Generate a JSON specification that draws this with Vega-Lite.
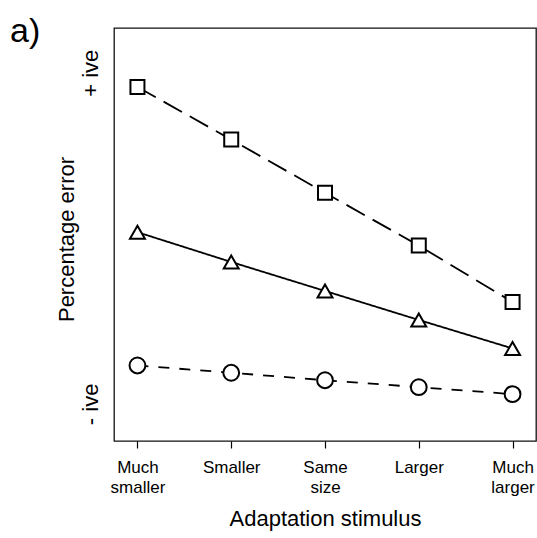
{
  "$schema": "https://vega.github.io/schema/vega-lite/v6.json",
  "width": 422,
  "height": 413,
  "autosize": "none",
  "padding": {"left": 114, "top": 28, "right": 1, "bottom": 97},
  "background": "white",
  "config": {
    "font": "Liberation Sans",
    "view": {"stroke": "#111111", "strokeWidth": 1.3},
    "axis": {"grid": false, "domain": false, "labelColor": "black", "titleColor": "black", "titleFontWeight": "normal"}
  },
  "title": {
    "text": "a)",
    "anchor": "start",
    "frame": "group",
    "fontSize": 34,
    "fontWeight": "normal",
    "font": "Liberation Sans",
    "color": "black",
    "baseline": "alphabetic",
    "offset": 0,
    "dx": -104,
    "dy": 48
  },
  "data": {
    "values": [
      {"stimulus": "Much smaller", "series": "A", "error": 9.14},
      {"stimulus": "Smaller", "series": "A", "error": 5.96},
      {"stimulus": "Same size", "series": "A", "error": 2.75},
      {"stimulus": "Larger", "series": "A", "error": -0.44},
      {"stimulus": "Much larger", "series": "A", "error": -3.85},
      {"stimulus": "Much smaller", "series": "B", "error": 0.37},
      {"stimulus": "Smaller", "series": "B", "error": -1.43},
      {"stimulus": "Same size", "series": "B", "error": -3.18},
      {"stimulus": "Larger", "series": "B", "error": -4.93},
      {"stimulus": "Much larger", "series": "B", "error": -6.65},
      {"stimulus": "Much smaller", "series": "C", "error": -7.68},
      {"stimulus": "Smaller", "series": "C", "error": -8.12},
      {"stimulus": "Same size", "series": "C", "error": -8.57},
      {"stimulus": "Larger", "series": "C", "error": -8.99},
      {"stimulus": "Much larger", "series": "C", "error": -9.41}
    ]
  },
  "encoding": {
    "x": {
      "field": "stimulus",
      "type": "ordinal",
      "sort": ["Much smaller", "Smaller", "Same size", "Larger", "Much larger"],
      "scale": {"type": "point", "padding": 0.25},
      "axis": {
        "title": "Adaptation stimulus",
        "titleFontSize": 22,
        "titleBaseline": "alphabetic",
        "titleY": 84,
        "labelAngle": 0,
        "labelFontSize": 17,
        "labelLineHeight": 20,
        "labelBaseline": "alphabetic",
        "labelPadding": 24,
        "labelExpr": "split(datum.label, ' ')",
        "ticks": true,
        "tickSize": 7,
        "tickColor": "black",
        "tickWidth": 1.2
      }
    },
    "y": {
      "field": "error",
      "type": "quantitative",
      "scale": {"domain": [-12.24, 12.7], "nice": false, "zero": false},
      "axis": {
        "title": "Percentage error",
        "titleFontSize": 22,
        "titleAngle": -90,
        "titleBaseline": "alphabetic",
        "titleAlign": "center",
        "titleX": -41,
        "titleY": 211,
        "values": [10, -10],
        "labelExpr": "datum.value > 0 ? '+ ive' : '- ive'",
        "labelFontSize": 22,
        "labelAngle": -90,
        "labelAlign": "center",
        "labelBaseline": "alphabetic",
        "labelPadding": 16.5,
        "ticks": false,
        "tickSize": 0
      }
    }
  },
  "layer": [
    {
      "mark": {"type": "line", "stroke": "black", "strokeWidth": 1.8},
      "encoding": {
        "strokeDash": {
          "field": "series",
          "type": "nominal",
          "scale": {"domain": ["A", "B", "C"], "range": [[21, 9], [1, 0], [11, 10]]},
          "legend": null
        }
      }
    },
    {
      "mark": {"type": "point", "filled": true, "fill": "white", "stroke": "black", "strokeWidth": 2, "opacity": 1},
      "encoding": {
        "shape": {
          "field": "series",
          "type": "nominal",
          "scale": {"domain": ["A", "B", "C"], "range": ["square", "triangle-up", "circle"]},
          "legend": null
        },
        "size": {
          "field": "series",
          "type": "nominal",
          "scale": {"domain": ["A", "B", "C"], "range": [196, 250, 160]},
          "legend": null
        }
      }
    }
  ]
}
